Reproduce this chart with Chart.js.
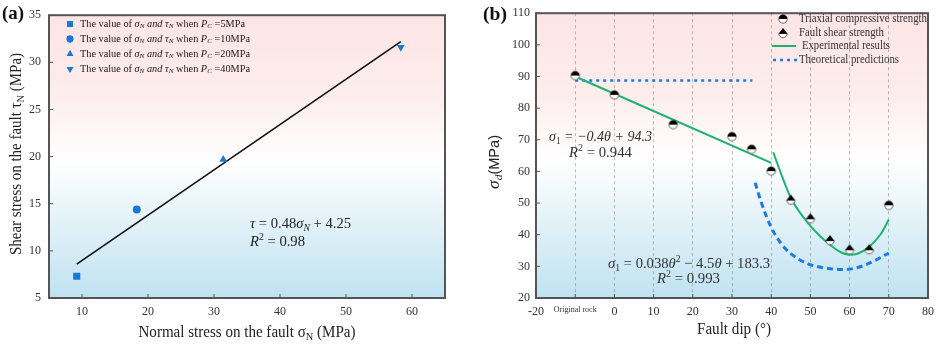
<!DOCTYPE html>
<html>
<head>
<meta charset="utf-8">
<script src="https://cdn.jsdelivr.net/npm/chart.js@4.4.1/dist/chart.umd.min.js"></script>
<style>
  body { margin: 0; background: #fff; }
  #wrap { position: relative; width: 941px; height: 346px; }
  canvas { position: absolute; top: 0; }
  #ca { left: 0; }
  #cb { left: 470px; }
</style>
</head>
<body>
<div id="wrap">
  <canvas id="ca" width="470" height="346"></canvas>
  <canvas id="cb" width="471" height="346"></canvas>
</div>
<script>
// ---- panel (a): shear vs normal stress on the fault
const aPressures = ["5MPa", "10MPa", "20MPa", "40MPa"];
const aSigma = [9.2, 18.3, 31.4, 58.3];
const aTau = [7.3, 14.4, 19.7, 31.6];
const aFitX = [9.2, 58.3];
const aFitY = [8.6, 32.2];
const aXTicks = [10, 20, 30, 40, 50, 60];

// ---- panel (b): strength vs fault dip (-10 = original rock)
const triaxDip = [-10, 0, 15, 30, 35, 40, 70];
const triaxVal = [90.3, 84.2, 74.8, 71.0, 67.0, 60.1, 49.3];
const shearDip = [45, 50, 55, 60, 65];
const shearVal = [51.1, 45.2, 38.3, 35.4, 35.4];
const expLinDip = [-10, 40];
const expLinVal = [90.0, 62.7];
const expQuadDip = [40.5, 45, 50, 55, 58, 60, 62, 65, 68, 70];
const expQuadVal = [66.0, 51.7, 42.8, 36.8, 34.3, 33.7, 34.0, 36.2, 40.3, 44.8];
const theoFlatDip = [-10, 35.2];
const theoFlatVal = [88.7, 88.7];
const theoCurveDip = [35.9, 37.5, 40, 42.6, 45, 49.4, 53.6, 58.7, 63.7, 70];
const theoCurveVal = [56.4, 50.1, 42.3, 37.1, 34.0, 30.8, 29.5, 29.0, 30.3, 34.2];
const bLegend = ["Triaxial compressive strength", "Fault shear strength", "Experimental results", "Theoretical predictions"];

const serif = "'Liberation Serif', 'Times New Roman', serif";
const blue = "#1778d8";
const green = "#1db36e";
const dashBlue = "#1a7be6";
const pts = (xs, ys) => xs.map((x, i) => ({ x, y: ys[i] }));

// rich text: segs = [text, font, dy]
function drawRich(ctx, segs, x, y, align, fitW, color) {
  let w = 0;
  segs.forEach((s) => { ctx.font = s[1]; w += ctx.measureText(s[0]).width; });
  const k = fitW ? fitW / w : 1;
  ctx.save();
  ctx.translate(x, y);
  ctx.scale(k, 1);
  ctx.fillStyle = color || "#222";
  ctx.textBaseline = "middle";
  ctx.textAlign = "left";
  let cx = align === "center" ? -w / 2 : 0;
  segs.forEach((s) => {
    ctx.font = s[1];
    ctx.fillText(s[0], cx, s[2] || 0);
    cx += ctx.measureText(s[0]).width;
  });
  ctx.restore();
}
const R = (n) => n + "px " + serif;
const I = (n) => "italic " + n + "px " + serif;

const bgPlugin = {
  id: "bg",
  beforeDraw(chart) {
    const { ctx, chartArea: a } = chart;
    ctx.save();
    ctx.fillStyle = "#fff";
    ctx.fillRect(0, 0, chart.width, chart.height);
    const g = ctx.createLinearGradient(0, a.top, 0, a.bottom);
    g.addColorStop(0, "#fde4e5");
    g.addColorStop(0.3, "#fdeeee");
    g.addColorStop(0.52, "#ffffff");
    g.addColorStop(1, "#bfe2f1");
    ctx.fillStyle = g;
    ctx.fillRect(a.left, a.top, a.right - a.left, a.bottom - a.top);
    ctx.restore();
  },
};

const framePlugin = {
  id: "frame",
  afterDraw(chart) {
    const { ctx, chartArea: a } = chart;
    ctx.save();
    ctx.strokeStyle = "#555";
    ctx.lineWidth = 1;
    // inward ticks
    const xs = chart.scales.x, ys = chart.scales.y;
    ctx.beginPath();
    xs.ticks.forEach((t) => {
      const px = xs.getPixelForValue(t.value);
      ctx.moveTo(px, a.bottom);
      ctx.lineTo(px, a.bottom - 4);
    });
    ys.ticks.forEach((t) => {
      const py = ys.getPixelForValue(t.value);
      ctx.moveTo(a.left, py);
      ctx.lineTo(a.left + 4, py);
    });
    ctx.stroke();
    ctx.lineWidth = 2;
    ctx.strokeRect(a.left, a.top, a.right - a.left, a.bottom - a.top);
    ctx.restore();
  },
};

// ---------- panel (a)
const aStyle = [
  { pointStyle: "rect", radius: 5, rotation: 0 },
  { pointStyle: "circle", radius: 4, rotation: 0 },
  { pointStyle: "triangle", radius: 4.5, rotation: 0 },
  { pointStyle: "triangle", radius: 4.5, rotation: 180 },
];

const aText = {
  id: "aText",
  afterDraw(chart) {
    const ctx = chart.ctx;
    drawRich(ctx, [["(a)", "bold 19px " + serif]], 2, 14, "left", 22, "#111");
    // legend
    aPressures.forEach((p, i) => {
      const y = 24 + i * 15;
      Chart.helpers.drawPoint(ctx, {
        pointStyle: aStyle[i].pointStyle,
        radius: aStyle[i].radius * 0.85,
        rotation: aStyle[i].rotation,
        borderWidth: 0,
      }, 70, y);
      ctx.fillStyle = blue;
      ctx.fill();
      drawRich(ctx, [
        ["The value of ", R(10)], ["σ", I(10)], ["N", I(7), 2.5], [" and ", I(10)],
        ["τ", I(10)], ["N", I(7), 2.5], [" when ", R(10)], ["P", I(10)], ["C", I(7), 2.5],
        [" =" + p, R(10)],
      ], 80, y, "left", i === 0 ? 165 : 170, "#222");
    });
    // fit equation
    drawRich(ctx, [["τ", I(15)], [" = 0.48", R(15)], ["σ", I(15)], ["N", I(10), 4], [" + 4.25", R(15)]], 250, 224, "left", 101, "#222");
    drawRich(ctx, [["R", I(15)], ["2", R(10), -5], [" = 0.98", R(15)]], 250, 242, "left", 55, "#222");
    // axis titles
    drawRich(ctx, [["Normal stress on the fault σ", R(16)], ["N", R(11), 4], [" (MPa)", R(16)]], 247, 333, "center", 217, "#222");
    ctx.save();
    ctx.translate(17, 154);
    ctx.rotate(-Math.PI / 2);
    drawRich(ctx, [["Shear stress on the fault τ", R(16)], ["N", R(11), 4], [" (MPa)", R(16)]], 0, 0, "center", 202, "#222");
    ctx.restore();
  },
};

new Chart(document.getElementById("ca"), {
  type: "scatter",
  data: {
    datasets: [
      ...aPressures.map((p, i) => ({
        label: "PC = " + p,
        data: [{ x: aSigma[i], y: aTau[i] }],
        pointStyle: aStyle[i].pointStyle,
        pointRadius: aStyle[i].radius,
        rotation: aStyle[i].rotation,
        backgroundColor: blue,
        borderColor: blue,
        borderWidth: 0,
      })),
      {
        label: "fit",
        data: pts(aFitX, aFitY),
        showLine: true,
        borderColor: "#111",
        borderWidth: 1.6,
        pointRadius: 0,
      },
    ],
  },
  options: {
    responsive: false,
    animation: false,
    layout: { padding: { left: 0, right: 25, top: 10, bottom: 0 } },
    plugins: { legend: { display: false }, tooltip: { enabled: false } },
    scales: {
      x: {
        type: "linear",
        min: 5,
        max: 65,
        afterBuildTicks: (s) => { s.ticks = aXTicks.map((v) => ({ value: v })); },
        afterFit: (s) => { s.height = 48; },
        ticks: { font: { family: serif, size: 12 }, color: "#333", padding: 7, maxRotation: 0 },
        grid: { display: false, drawTicks: false },
        border: { display: false },
      },
      y: {
        min: 5,
        max: 35,
        afterFit: (s) => { s.width = 49; },
        ticks: { stepSize: 5, font: { family: serif, size: 12 }, color: "#333", padding: 8 },
        grid: { display: false, drawTicks: false },
        border: { display: false },
      },
    },
  },
  plugins: [bgPlugin, framePlugin, aText],
});

// ---------- panel (b)
function makeMarker(kind) {
  const c = document.createElement("canvas");
  c.width = c.height = 12;
  const g = c.getContext("2d");
  const r = 4.2;
  g.lineWidth = 0.8;
  g.strokeStyle = "#444";
  g.fillStyle = "#fff";
  if (kind === "triax") {
    g.beginPath(); g.arc(6, 6, r, 0, Math.PI * 2); g.fill(); g.stroke();
    g.fillStyle = "#000";
    g.beginPath(); g.arc(6, 6, r, Math.PI, 0); g.closePath(); g.fill();
  } else {
    g.beginPath(); g.arc(6, 6.5, r, 0, Math.PI); g.closePath(); g.fill(); g.stroke();
    g.fillStyle = "#000";
    g.beginPath(); g.moveTo(6 - r - 0.3, 6.8); g.lineTo(6 + r + 0.3, 6.8); g.lineTo(6, 6.5 - r * 1.3); g.closePath(); g.fill();
  }
  return c;
}
const triaxMark = makeMarker("triax");
const shearMark = makeMarker("shear");

const bText = {
  id: "bText",
  afterDraw(chart) {
    const ctx = chart.ctx;
    drawRich(ctx, [["(b)", "bold 19px " + serif]], 13, 15, "left", 24, "#111");
    // legend
    ctx.drawImage(triaxMark, 313 - 6, 19 - 6);
    ctx.drawImage(shearMark, 313 - 6, 33 - 6);
    ctx.save();
    ctx.lineWidth = 2;
    ctx.strokeStyle = green;
    ctx.beginPath(); ctx.moveTo(302, 46); ctx.lineTo(326, 46); ctx.stroke();
    ctx.strokeStyle = dashBlue;
    ctx.lineWidth = 2.5;
    ctx.setLineDash([3, 4]);
    ctx.beginPath(); ctx.moveTo(303, 60); ctx.lineTo(327, 60); ctx.stroke();
    ctx.restore();
    drawRich(ctx, [[bLegend[0], R(12)]], 329, 19, "left", 128, "#333");
    drawRich(ctx, [[bLegend[1], R(12)]], 329, 33, "left", 85, "#333");
    drawRich(ctx, [[bLegend[2], R(12)]], 332, 46, "left", 88, "#333");
    drawRich(ctx, [[bLegend[3], R(12)]], 329, 60, "left", 100, "#333");
    // equations
    const ec = "#333";
    drawRich(ctx, [["σ", I(15)], ["1", R(10), 4], [" = −0.4", I(15)], ["θ", I(15)], [" + 94.3", I(15)]], 79, 137, "left", 103, ec);
    drawRich(ctx, [["R", I(15)], ["2", R(10), -5], [" = 0.944", R(15)]], 99, 153, "left", 63, ec);
    drawRich(ctx, [["σ", I(15)], ["1", R(10), 4], [" = 0.038", R(15)], ["θ", I(15)], ["2", R(10), -5],
      [" − 4.5", R(15)], ["θ", I(15)], [" + 183.3", R(15)]], 138, 264, "left", 162, ec);
    drawRich(ctx, [["R", I(15)], ["2", R(10), -5], [" = 0.993", R(15)]], 187, 279, "left", 63, ec);
    // axis titles
    drawRich(ctx, [["Fault dip (°)", R(16)]], 264, 330, "center", 74, "#222");
    ctx.save();
    ctx.translate(25, 162);
    ctx.rotate(-Math.PI / 2);
    drawRich(ctx, [["σ", I(17)], ["d", I(11), 4], ["(MPa)", "14px 'Liberation Sans', Arial, sans-serif"]], 0, 0, "center", 54, "#222");
    ctx.restore();
  },
};

new Chart(document.getElementById("cb"), {
  type: "scatter",
  data: {
    datasets: [
      { label: bLegend[0], data: pts(triaxDip, triaxVal), pointStyle: triaxMark, pointRadius: 5 },
      { label: bLegend[1], data: pts(shearDip, shearVal), pointStyle: shearMark, pointRadius: 5 },
      { label: bLegend[2], data: pts(expLinDip, expLinVal), showLine: true, borderColor: green, borderWidth: 2, pointRadius: 0 },
      { label: bLegend[2], data: pts(expQuadDip, expQuadVal), showLine: true, borderColor: green, borderWidth: 2, pointRadius: 0, tension: 0.4, cubicInterpolationMode: "monotone" },
      { label: bLegend[3], data: pts(theoFlatDip, theoFlatVal), showLine: true, borderColor: dashBlue, borderWidth: 2.5, borderDash: [3, 4], pointRadius: 0 },
      { label: bLegend[3], data: pts(theoCurveDip, theoCurveVal), showLine: true, borderColor: dashBlue, borderWidth: 3, borderDash: [6, 4], pointRadius: 0, tension: 0.4, cubicInterpolationMode: "monotone" },
    ],
  },
  options: {
    responsive: false,
    animation: false,
    layout: { padding: { left: 0, right: 10, top: 10, bottom: 0 } },
    plugins: { legend: { display: false }, tooltip: { enabled: false } },
    scales: {
      x: {
        type: "linear",
        min: -20,
        max: 80,
        afterFit: (s) => { s.height = 48; },
        ticks: {
          stepSize: 10,
          color: "#333",
          padding: 7,
          maxRotation: 0,
          minRotation: 0,
          autoSkip: false,
          font: (c) => ({ family: serif, size: c.tick && c.tick.value === -10 ? 8 : 12 }),
          callback: (v) => (v === -10 ? "Original rock" : v),
        },
        grid: {
          drawTicks: false,
          lineWidth: 1,
          color: (c) => (c.tick && (c.tick.value === -20 || c.tick.value === 80) ? "rgba(0,0,0,0)" : "rgba(130,130,130,0.55)"),
        },
        border: { display: false, dash: [3, 3] },
      },
      y: {
        min: 20,
        max: 110,
        afterFit: (s) => { s.width = 66; },
        ticks: { stepSize: 10, font: { family: serif, size: 12 }, color: "#333", padding: 6 },
        grid: { display: false, drawTicks: false },
        border: { display: false },
      },
    },
  },
  plugins: [bgPlugin, framePlugin, bText],
});
</script>
</body>
</html>
